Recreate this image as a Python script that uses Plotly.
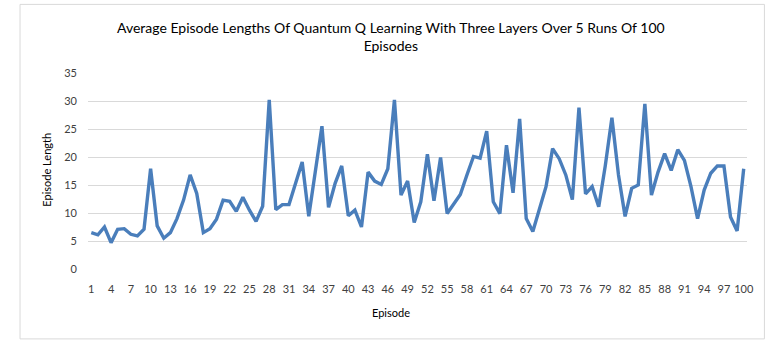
import plotly.graph_objects as go

episodes = list(range(1, 101))
episode_lengths = [
    6.5, 6.1, 7.5, 4.7, 7.1, 7.2, 6.2, 5.9, 7.1, 17.9,
    7.7, 5.5, 6.5, 9.0, 12.3, 16.8, 13.5, 6.5, 7.2, 8.9,
    12.3, 12.1, 10.3, 12.8, 10.5, 8.5, 11.2, 30.2, 10.6, 11.5,
    11.5, 15.1, 19.1, 9.4, 17.6, 25.5, 11.0, 15.3, 18.4, 9.5,
    10.5, 7.5, 17.3, 15.7, 15.1, 17.9, 30.2, 13.2, 15.7, 8.3,
    12.0, 20.5, 12.2, 19.9, 9.9, 11.6, 13.3, 16.8, 20.1, 19.8,
    24.6, 12.0, 9.9, 22.1, 13.6, 26.8, 9.0, 6.7, 10.5, 14.7,
    21.5, 19.7, 16.8, 12.4, 28.8, 13.4, 14.7, 11.1, 18.5, 27.0,
    16.8, 9.4, 14.4, 15.0, 29.5, 13.2, 17.3, 20.6, 17.6, 21.3,
    19.4, 14.7, 9.0, 14.1, 17.1, 18.4, 18.4, 9.3, 6.8, 17.9,
]
x_tick_vals = list(range(1, 101, 3))
y_tick_vals = [0, 5, 10, 15, 20, 25, 30, 35]

title_text = "Average Episode Lengths Of Quantum Q Learning With Three Layers Over 5 Runs Of 100<br>Episodes"
x_title = "Episode"
y_title = "Episode Length"

W, H = 783, 344
L, R = 88.4, 746.6
T, B = 72.7, 269.0
FONT = "Lato, 'Open Sans', sans-serif"


def px_x(p):
    return (p - L) / (R - L)


def px_y(p):
    return (B - p) / (B - T)


fig = go.Figure()
fig.add_trace(go.Scatter(
    x=episodes, y=episode_lengths, mode="lines",
    line=dict(color="#4a7ebb", width=3.4),
    hoverinfo="skip",
))

fig.update_layout(
    width=W, height=H,
    margin=dict(l=L, r=W - R, t=T, b=H - B, pad=0),
    paper_bgcolor="white", plot_bgcolor="white",
    showlegend=False,
    font=dict(family=FONT, color="#404040", size=11),
    xaxis=dict(
        range=[0.5, 100.5], tickmode="array", tickvals=x_tick_vals,
        ticktext=[str(v) for v in x_tick_vals],
        showgrid=False, zeroline=False, showline=False, ticks="",
        ticklabelstandoff=12, tickfont=dict(size=11, color="#404040"),
        automargin=False,
    ),
    yaxis=dict(
        range=[0, 35], tickmode="array", tickvals=y_tick_vals,
        showgrid=True, gridcolor="#d9d9d9", gridwidth=1,
        zeroline=False, showline=False, ticks="",
        ticklabelstandoff=10, tickfont=dict(size=11, color="#404040"),
        automargin=False,
    ),
    annotations=[
        dict(text=title_text, xref="paper", yref="paper",
             x=px_x(W / 2), y=px_y(36), xanchor="center", yanchor="middle",
             showarrow=False, font=dict(family=FONT, size=14, color="#000000")),
        dict(text=x_title, xref="paper", yref="paper",
             x=px_x(W / 2), y=px_y(313), xanchor="center", yanchor="middle",
             showarrow=False, font=dict(family=FONT, size=11, color="#000000")),
        dict(text=y_title, xref="paper", yref="paper",
             x=px_x(47), y=px_y(170), xanchor="center", yanchor="middle",
             textangle=-90, showarrow=False,
             font=dict(family=FONT, size=11, color="#000000")),
    ],
    shapes=[
        dict(type="rect", xref="paper", yref="paper",
             x0=px_x(20.5), x1=px_x(764), y0=px_y(339), y1=px_y(4),
             line=dict(color="#d9d9d9", width=1), fillcolor="rgba(0,0,0,0)",
             layer="below"),
    ],
)

fig.write_html(
    "out.html",
    config={"displayModeBar": False, "staticPlot": True},
    post_script="document.body.style.margin='0';document.body.style.padding='0';",
)
